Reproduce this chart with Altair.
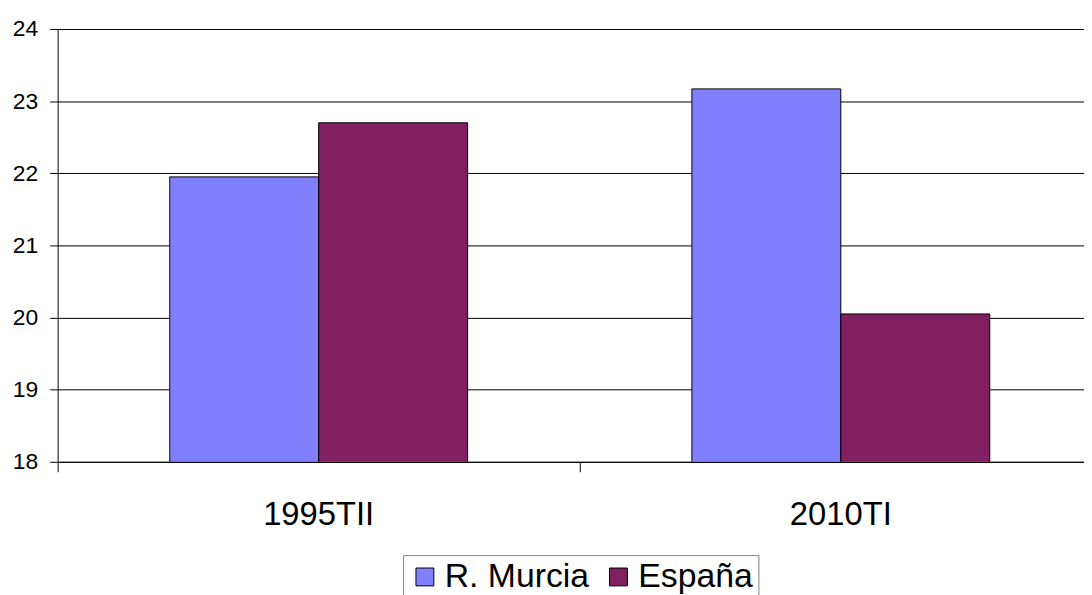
import altair as alt
import pandas as pd

periods = ["1995TII", "2010TI"]
series = ["R. Murcia", "España"]
murcia = [21.95, 23.17]
espana = [22.70, 20.05]
colors = ["#8080FF", "#802060"]
y_ticks = [18, 19, 20, 21, 22, 23, 24]

rows = []
for i, p in enumerate(periods):
    rows.append({"periodo": p, "serie": series[0], "valor": murcia[i]})
    rows.append({"periodo": p, "serie": series[1], "valor": espana[i]})
df = pd.DataFrame(rows)

chart = (
    alt.Chart(df)
    .mark_bar(stroke="black", strokeWidth=1, clip=True)
    .encode(
        x=alt.X(
            "periodo:N",
            sort=periods,
            scale=alt.Scale(paddingInner=0, paddingOuter=0),
            axis=alt.Axis(
                title=None,
                labelAngle=0,
                bandPosition=0,
                tickSize=10,
                tickColor="black",
                domainColor="black",
                labelFontSize=33,
                labelPadding=27,
                labelColor="black",
                zindex=1,
            ),
        ),
        xOffset=alt.XOffset(
            "serie:N",
            sort=series,
            scale=alt.Scale(paddingInner=0, paddingOuter=0.753),
        ),
        y=alt.Y(
            "valor:Q",
            scale=alt.Scale(domain=[18, 24], zero=False, nice=False),
            axis=alt.Axis(
                title=None,
                values=y_ticks,
                grid=True,
                gridColor="black",
                gridOpacity=1,
                tickSize=8,
                tickColor="black",
                domainColor="black",
                labelFontSize=23,
                labelPadding=12,
                labelColor="black",
            ),
        ),
        color=alt.Color(
            "serie:N",
            sort=series,
            scale=alt.Scale(domain=series, range=colors),
            legend=alt.Legend(
                title=None,
                orient="none",
                direction="horizontal",
                legendX=348,
                legendY=530,
                symbolType="square",
                symbolSize=324,
                symbolStrokeColor="black",
                symbolStrokeWidth=1,
                symbolOpacity=1,
                labelFontSize=34,
                labelColor="black",
                labelOffset=3,
                columnPadding=12,
                padding=5,
                strokeColor="#808080",
                labelLimit=0,
            ),
        ),
    )
    .properties(
        width=1052,
        height=436,
        autosize=alt.AutoSizeParams(type="none"),
        padding={"left": 50, "top": 19, "right": -18, "bottom": 132},
    )
    .configure(font="Liberation Sans")
    .configure_view(stroke=None)
)

chart.save("out.html", embed_options={"renderer": "svg", "actions": False})
